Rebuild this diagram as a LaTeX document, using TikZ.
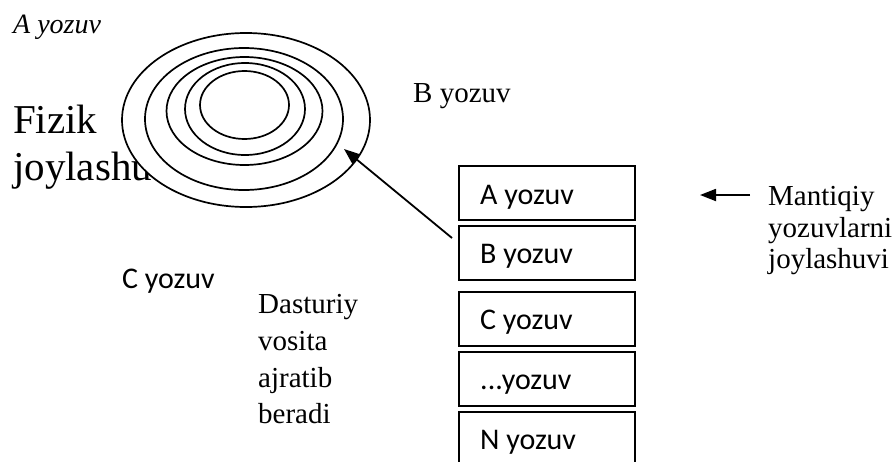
\documentclass[tikz,border=0pt]{standalone}
\usepackage{fontspec}
\setmainfont{Liberation Serif}
\newfontfamily\calib{Carlito}
\usetikzlibrary{arrows.meta}
\begin{document}
\begin{tikzpicture}[x=1pt,y=-1pt,
  rec/.style={draw, line width=1.8pt, minimum width=176pt, minimum height=54pt, anchor=north west, inner sep=0pt},
  ctext/.style={anchor=base west, inner sep=0pt, font=\calib\fontsize{30}{34}\selectfont},
  stext/.style={anchor=base west, inner sep=0pt, font=\fontsize{29}{34}\selectfont},
  btext/.style={anchor=base west, inner sep=0pt, font=\fontsize{41}{48}\selectfont},
  ring/.style={draw, fill=white, line width=1.7pt},
  arr/.style={line width=1.8pt, -{Triangle[length=16pt,width=12pt]}}]
\useasboundingbox (0,0) rectangle (896,461);
% texts on the left
\node[stext, font=\itshape\fontsize{28}{34}\selectfont] (ta) at (13,33) {A yozuv};
\node[btext] (fz1) at (13,133) {Fizik};
\node[btext] (fz2) at (13,180) {joylashuvi};
\node[stext] (tb) at (413,102) {B yozuv};
\node[ctext] (tc) at (122,288) {C yozuv};
\node[stext] (d1) at (258,313) {Dasturiy};
\node[stext] (d2) at (258,350) {vosita};
\node[stext] (d3) at (258,387) {ajratib};
\node[stext] (d4) at (258,423) {beradi};
% rings
\draw[ring] (246,120) ellipse [x radius=124, y radius=87];
\draw[ring] (244,119) ellipse [x radius=99, y radius=71];
\draw[ring] (244.5,111) ellipse [x radius=78, y radius=54];
\draw[ring] (245,109) ellipse [x radius=60, y radius=46];
\draw[ring] (244.5,105) ellipse [x radius=44.5, y radius=34];
% boxes
\node[rec] (bA) at (458,165) {};
\node[rec] (bB) at (458,225) {};
\node[rec] (bC) at (458,291) {};
\node[rec] (bD) at (458,351) {};
\node[rec] (bN) at (458,411) {};
\node[ctext] (lA) at (480,204) {A yozuv};
\node[ctext] (lB) at (480,263) {B yozuv};
\node[ctext] (lC) at (480,329) {C yozuv};
\node[ctext] (lD) at (480,389) {...yozuv};
\node[ctext] (lN) at (480,449) {N yozuv};
% right label
\node[stext] (m1) at (768,205) {Mantiqiy};
\node[stext] (m2) at (768,237) {yozuvlarni};
\node[stext] (m3) at (768,268) {joylashuvi};
% arrows
\coordinate (s) at (452,238);
\coordinate (t) at (344,149);
\draw[arr] (s) -- (t);
\coordinate (rs) at (750,195);
\coordinate (rt) at (700,195);
\draw[arr] (rs) -- (rt);
\end{tikzpicture}
\end{document}
